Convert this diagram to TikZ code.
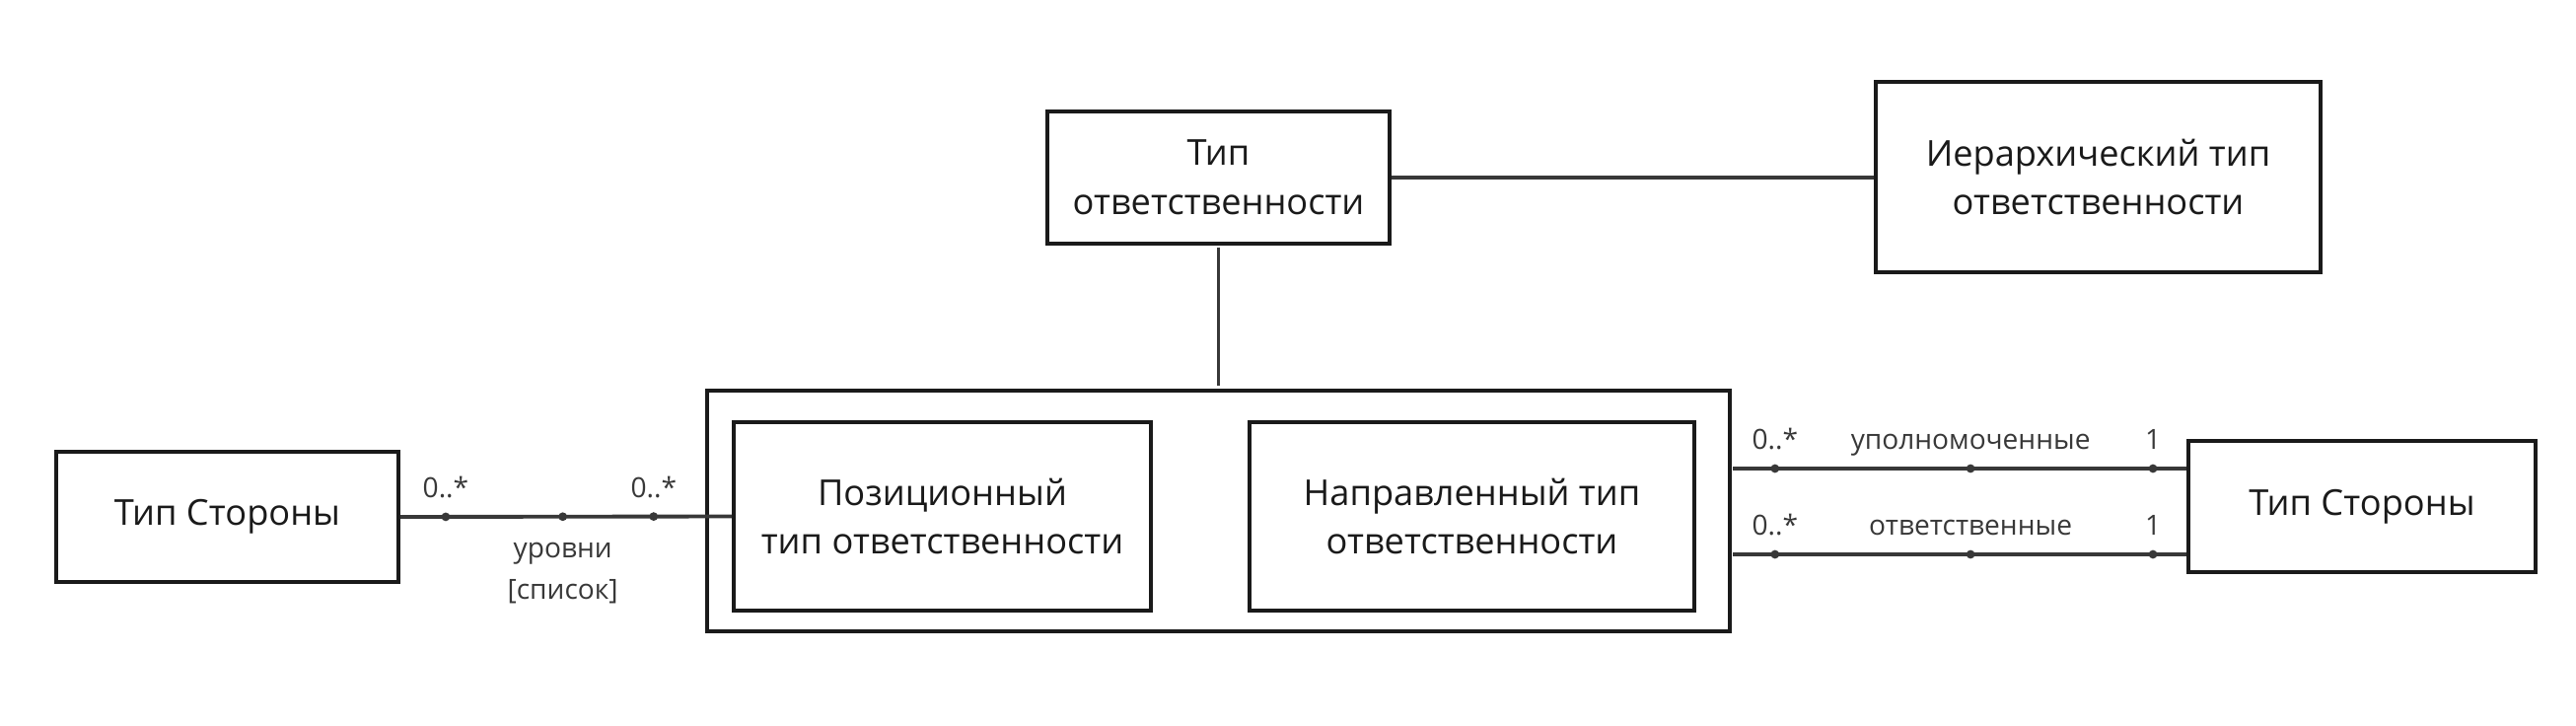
\documentclass[tikz,border=0pt]{standalone}
\usepackage{fontspec}
\setmainfont{Open Sans}
\usepackage{tikz}
\usetikzlibrary{positioning,calc}
\definecolor{ink}{HTML}{1a1a1a}
\definecolor{wire}{HTML}{383838}

\begin{document}
\begin{tikzpicture}[x=0.02cm, y=-0.02cm,
  cls/.style={draw=ink, line width=2.2pt, font=\fontsize{20.6}{28.4}\selectfont, text=ink, align=center, inner sep=0pt},
  assoc/.style={draw=wire, line width=2.2pt},
  link/.style={draw=wire, line width=1.3pt},
  dot/.style={circle, fill=wire, inner sep=0pt, minimum size=5pt},
  mult/.style={font=\fontsize{16}{24}\selectfont, text=wire, inner sep=0pt, anchor=base}]
  \useasboundingbox (0,0) rectangle (2612,736);
  \node[cls, minimum width=20.74cm, minimum height=4.88cm] (group) at (1235.5,518) {};
  \node[cls, minimum width=8.46cm, minimum height=3.82cm] (pos) at (955.5,523.5) {Позиционный\\тип ответственности};
  \node[cls, minimum width=9.02cm, minimum height=3.82cm] (dir) at (1492.5,523.5) {Направленный тип\\ответственности};
  \node[cls, minimum width=6.94cm, minimum height=2.68cm] (resp) at (1235.5,180) {Тип\\ответственности};
  \node[cls, minimum width=9.02cm, minimum height=3.86cm] (hier) at (2127.5,179.5) {Иерархический тип\\ответственности};
  \node[cls, minimum width=6.94cm, minimum height=2.64cm] (partyL) at (230.5,524) {Тип Стороны};
  \node[cls, minimum width=7.04cm, minimum height=2.66cm] (partyR) at (2395,513.5) {Тип Стороны};
  \draw[link, shorten <=1pt, shorten >=1.5pt] (resp.south) -- (group.north);
  \draw[assoc] (resp.east) -- (resp.east -| hier.west);
  \draw[assoc] (partyL.east) -- (pos.west)
    node[dot, pos=0.137] (l1) {} node[dot, pos=0.49] (l2) {} node[dot, pos=0.764] (l3) {};
  \node[mult] at ($(l1)+(0,-19)$) {0..*};
  \node[mult] at ($(l3)+(0,-19)$) {0..*};
  \node[mult] at ($(l2)+(0,42)$) {уровни};
  \node[mult] at ($(l2)+(0,84)$) {[список]};
  \foreach \y/\n/\t in {475/u/уполномоченные, 562/o/ответственные}{
    \coordinate (\n0) at (1757,\y);
    \draw[assoc] (\n0) -- (\n0 -| partyR.west)
      node[dot, pos=0.093] (\n1) {} node[dot, pos=0.524] (\n2) {} node[dot, pos=0.926] (\n3) {};
    \node[mult] at ($(\n1)+(0,-20)$) {0..*};
    \node[mult] at ($(\n2)+(0,-20)$) {\t};
    \node[mult] at ($(\n3)+(0,-20)$) {1};
  }
\end{tikzpicture}
\end{document}
